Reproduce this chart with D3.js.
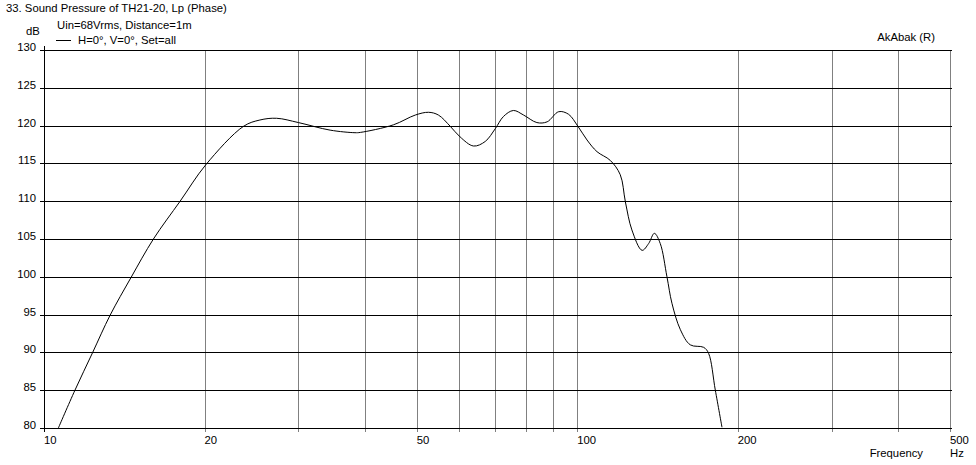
<!DOCTYPE html>
<html><head><meta charset="utf-8">
<script src="https://cdn.jsdelivr.net/npm/d3@7"></script>
<style>
html,body{margin:0;padding:0;background:#fff;}
svg text{font-family:"Liberation Sans",Arial,sans-serif;font-size:11.3px;fill:#000;}
</style></head>
<body><svg id="c" width="976" height="465"></svg>
<script>
const freq = [10.64,11.43,12.34,13.3,14.56,16.04,18.0,20.1,23.66,25.4,27.3,30,34.4,38.3,39.2,45.2,49.7,52.6,54.9,57.8,60.3,63.9,67.2,70.2,72.7,75.9,79.3,84.0,87.8,92.3,96.3,100.3,104.3,108.9,115.3,120.4,123.1,126.6,132.3,136.1,139.5,143.1,147.3,150.5,156.1,162.9,172.6,176.3,181.5,186.8];
const spl  = [80,85,90,94.9,99.9,105,110,114.8,119.9,120.74,120.97,120.4,119.4,119.06,119.1,120.1,121.4,121.76,121.4,119.9,118.5,117.3,117.9,119.6,121.2,122.0,121.4,120.4,120.5,121.84,121.5,119.9,118.1,116.55,115.4,113.5,109.9,106.2,103.5,104.4,105.75,104.4,100.0,96.5,93.0,91.0,90.67,89.88,85.0,80.1];
const xTickLabels = [10,20,50,100,200,500];
const xGrid = [20,30,40,50,60,70,80,90,100,200,300,400,500];
const yTicks = [80,85,90,95,100,105,110,115,120,125,130];

const svg = d3.select("#c");
const L=44,R=950,T=50,B=428;
const x = d3.scaleLog().domain([10,500]).range([L,R]);
const y = d3.scaleLinear().domain([80,130]).range([B,T]);

svg.append("g").selectAll("line").data(xGrid).join("line")
  .attr("x1",d=>Math.round(x(d))+0.5).attr("x2",d=>Math.round(x(d))+0.5)
  .attr("y1",T).attr("y2",B+4).attr("stroke","#808080").attr("stroke-width",1);
svg.append("g").selectAll("line").data(yTicks).join("line")
  .attr("x1",L-4).attr("x2",R+2)
  .attr("y1",d=>Math.round(y(d))+0.5).attr("y2",d=>Math.round(y(d))+0.5)
  .attr("stroke","#000").attr("stroke-width",1);
svg.append("line").attr("x1",L+0.5).attr("x2",L+0.5).attr("y1",T-4).attr("y2",B+4).attr("stroke","#000");
svg.append("g").selectAll("text").data(yTicks).join("text")
  .attr("x",36).attr("y",d=>y(d)+1).attr("text-anchor","end").text(d=>d);
svg.append("g").selectAll("text").data(xTickLabels).join("text")
  .attr("x",d=>x(d)).attr("y",444).text(d=>d);

const line = d3.line().x((d,i)=>x(freq[i])).y(d=>y(d)).curve(d3.curveCatmullRom.alpha(0.5));
svg.append("path").datum(spl).attr("d",line).attr("fill","none").attr("stroke","#000").attr("stroke-width",1);

svg.append("text").attr("x",6).attr("y",12).text("33. Sound Pressure of TH21-20, Lp (Phase)");
svg.append("text").attr("x",57).attr("y",29).text("Uin=68Vrms, Distance=1m");
svg.append("text").attr("x",26).attr("y",35).text("dB");
svg.append("line").attr("x1",56).attr("x2",71).attr("y1",40.5).attr("y2",40.5).attr("stroke","#000");
svg.append("text").attr("x",78).attr("y",44).text("H=0°, V=0°, Set=all");
svg.append("text").attr("x",935).attr("y",41).attr("text-anchor","end").text("AkAbak (R)");
svg.append("text").attr("x",923).attr("y",457).attr("text-anchor","end").text("Frequency");
svg.append("text").attr("x",950).attr("y",457).text("Hz");
</script></body></html>
